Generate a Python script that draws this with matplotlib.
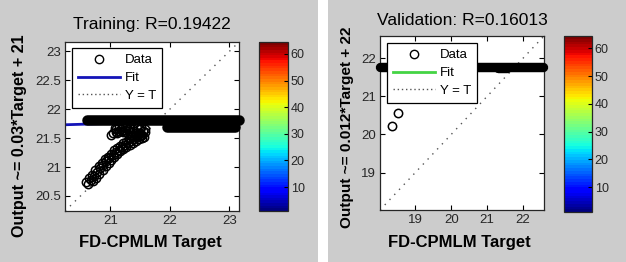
import numpy as np
import matplotlib
matplotlib.use('Agg')
import matplotlib.pyplot as plt
from matplotlib.lines import Line2D
from matplotlib.patches import Rectangle
from matplotlib.colors import Normalize
from matplotlib.cm import ScalarMappable
from matplotlib.ticker import FormatStrFormatter

plt.rcParams['font.family'] = ['Liberation Sans', 'DejaVu Sans']

# ---- training panel data ----
train_lims = [20.24, 23.16]
train_title = 'Training: R=0.19422'
train_ylabel = 'Output ~= 0.03*Target + 21'
train_xticks = [21, 22, 23]
train_yticks = [20.5, 21, 21.5, 22, 22.5, 23]
train_fit_x = [20.24, 23.16]
train_fit_y = [21.73, 21.82]
# dense overlapping points drawn as solid strips: start, end, level
train_dense_x0 = [20.61, 21.96]
train_dense_x1 = [23.16, 23.09]
train_dense_y = [21.81, 21.70]
# sparse points
train_curve_a_x = [20.60, 20.65, 20.70, 20.75, 20.81, 20.86, 20.91, 20.96, 21.01, 21.06,
                   21.11, 21.16, 21.21, 21.27, 21.32, 21.37, 21.42, 21.47, 21.50]
train_curve_a_y = [20.74, 20.81, 20.87, 20.94, 21.01, 21.07, 21.13, 21.18, 21.23, 21.29,
                   21.33, 21.37, 21.41, 21.44, 21.48, 21.51, 21.54, 21.56, 21.58]
train_curve_c_x = [20.63, 20.68, 20.73, 20.78, 20.83, 20.88, 20.93, 20.98, 21.04, 21.09,
                   21.14, 21.19, 21.24, 21.29, 21.34, 21.39, 21.44, 21.50, 21.53]
train_curve_c_y = [20.71, 20.78, 20.84, 20.91, 20.98, 21.04, 21.10, 21.15, 21.20, 21.26,
                   21.30, 21.34, 21.38, 21.41, 21.45, 21.48, 21.51, 21.53, 21.55]
train_curve_b_x = [20.71, 20.76, 20.81, 20.87, 20.92, 20.97, 21.02, 21.07, 21.12, 21.17,
                   21.22, 21.27, 21.33, 21.38, 21.43, 21.48, 21.53, 21.56]
train_curve_b_y = [20.75, 20.81, 20.88, 20.95, 21.01, 21.07, 21.12, 21.17, 21.23, 21.27,
                   21.31, 21.35, 21.38, 21.41, 21.45, 21.48, 21.50, 21.52]
train_blob_x = [21.01, 21.05, 21.09, 21.14, 21.08, 21.18, 21.25, 21.31, 21.37, 21.43,
                21.49, 21.55, 21.59, 21.33, 21.45, 21.52, 21.15, 21.22, 21.40,
                21.12, 21.20, 21.28, 21.35, 21.47, 21.52, 21.58, 21.30, 21.10, 21.24,
                21.38, 21.50]
train_blob_y = [21.55, 21.58, 21.61, 21.63, 21.67, 21.66, 21.64, 21.62, 21.60, 21.58,
                21.59, 21.62, 21.66, 21.68, 21.67, 21.69, 21.70, 21.60, 21.63,
                21.58, 21.62, 21.58, 21.56, 21.56, 21.55, 21.60, 21.65, 21.66, 21.68,
                21.66, 21.65]

# ---- validation panel data ----
val_lims = [18.02, 22.58]
val_title = 'Validation: R=0.16013'
val_ylabel = 'Output ~= 0.012*Target + 22'
val_xticks = [19, 20, 21, 22]
val_yticks = [19, 20, 21, 22]
val_fit_x = [18.02, 22.58]
val_fit_y = [21.75, 21.80]
val_dense_x0 = [18.03, 21.30]
val_dense_x1 = [22.55, 21.55]
val_dense_y = [21.77, 21.73]
val_pts_x = [18.34, 18.51]
val_pts_y = [20.22, 20.56]

cbar_ticks = [10, 20, 30, 40, 50, 60]

W, H = 626, 262


def px_rect(l, t, r, b):
    return [l / W, 1 - b / H, (r - l) / W, (b - t) / H]


fig = plt.figure(figsize=(W / 100, H / 100), dpi=100, facecolor='#cccccc')
fig.patches.append(Rectangle((318 / W, 0), 10 / W, 1, transform=fig.transFigure,
                             facecolor='white', edgecolor='none'))

jet = plt.get_cmap('jet', 64)


def draw_panel(ax, cax, lims, title, title_pad, ylabel, ylab_size, ylab_xy, xlab_xy,
               xticks, yticks, fit_x, fit_y, fit_color, dense, rings, leg_anchor):
    ax.plot(lims, lims, color='#555555', lw=1, ls=(0, (1, 4)), zorder=1.5)
    ax.plot(fit_x, fit_y, color=fit_color, lw=2, zorder=2)
    x0s, x1s, ys, lw = dense
    for x0, x1, y in zip(x0s, x1s, ys):
        ax.plot([x0, x1], [y, y], color='black', lw=lw, solid_capstyle='round',
                zorder=3, clip_on=False)
    for rx, ry in rings:
        ax.plot(rx, ry, ls='none', marker='o', ms=6, mfc='none', mec='black',
                mew=1.1, zorder=3, clip_on=False)
    ax.set_xlim(lims)
    ax.set_ylim(lims)
    ax.set_xticks(xticks)
    ax.set_yticks(yticks)
    ax.xaxis.set_major_formatter(FormatStrFormatter('%g'))
    ax.yaxis.set_major_formatter(FormatStrFormatter('%g'))
    ax.tick_params(direction='in', top=True, right=True, length=3.5, width=0.8,
                   labelsize=9.5, labelcolor='#262626', pad=3)
    for s in ax.spines.values():
        s.set_linewidth(0.9)
        s.set_color('#262626')
    ax.set_title(title, fontsize=12.5, pad=title_pad)
    ax.set_xlabel('FD-CPMLM Target', fontsize=12, fontweight='bold')
    ax.xaxis.label.set_va('center')
    ax.xaxis.set_label_coords(*xlab_xy)
    ax.set_ylabel(ylabel, fontsize=ylab_size, fontweight='bold')
    ax.yaxis.label.set_va('center')
    ax.yaxis.set_label_coords(*ylab_xy)

    handles = [Line2D([], [], ls='none', marker='o', ms=6, mfc='none', mec='black', mew=1.0),
               Line2D([], [], color=fit_color, lw=2),
               Line2D([], [], color='#555555', lw=1, ls=(0, (1, 2)))]
    leg = ax.legend(handles, ['Data', 'Fit', 'Y = T'], loc='upper left',
                    bbox_to_anchor=leg_anchor, borderaxespad=0, fontsize=9.5,
                    fancybox=False, framealpha=1, edgecolor='black',
                    handlelength=3.2, handletextpad=0.4, labelspacing=0.42,
                    borderpad=0.45)
    leg.get_frame().set_linewidth(0.9)
    leg.set_zorder(10)

    sm = ScalarMappable(norm=Normalize(1, 64.5), cmap=jet)
    cb = fig.colorbar(sm, cax=cax, ticks=cbar_ticks)
    cb.ax.tick_params(direction='in', length=3, width=0.8, labelsize=9,
                      labelcolor='#262626', pad=2)
    cb.outline.set_linewidth(0.9)
    cb.outline.set_edgecolor('#262626')


ax1 = fig.add_axes(px_rect(65, 42, 239, 211))
cax1 = fig.add_axes(px_rect(259, 42, 288, 211))
ax2 = fig.add_axes(px_rect(380, 36, 544, 210))
cax2 = fig.add_axes(px_rect(564, 36, 592, 212))

draw_panel(ax1, cax1, train_lims, train_title, 9, train_ylabel, 11.6,
           ((20 - 65) / 174, 1 - (135.5 - 42) / 169),
           ((150 - 65) / 174, 1 - (242 - 42) / 169),
           train_xticks, train_yticks, train_fit_x, train_fit_y, '#1414b8',
           (train_dense_x0, train_dense_x1, train_dense_y, 7.6),
           [(train_curve_a_x, train_curve_a_y), (train_curve_c_x, train_curve_c_y),
            (train_curve_b_x, train_curve_b_y), (train_blob_x, train_blob_y)],
           ((71.7 - 65) / 174, 1 - (48.3 - 42) / 169))

draw_panel(ax2, cax2, val_lims, val_title, 8, val_ylabel, 11.1,
           ((347 - 380) / 164, 1 - (127.5 - 36) / 174),
           ((459.3 - 380) / 164, 1 - (242.5 - 36) / 174),
           val_xticks, val_yticks, val_fit_x, val_fit_y, '#44d444',
           (val_dense_x0, val_dense_x1, val_dense_y, 6.8),
           [(val_pts_x, val_pts_y)],
           ((386.7 - 380) / 164, 1 - (43.3 - 36) / 174))

fig.savefig('out.png', dpi=100, facecolor=fig.get_facecolor())
